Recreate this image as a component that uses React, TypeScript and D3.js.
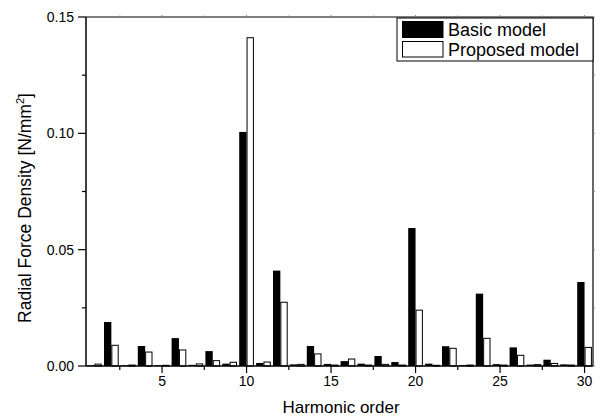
import React from "react";
import * as d3 from "d3";

const harmonics = d3.range(1, 31);
const basicModel = [0.0003, 0.0189, 0.0003, 0.0086, 0.0003, 0.012, 0.0005, 0.0064, 0.001, 0.1006, 0.0013, 0.041, 0.0007, 0.0086, 0.0009, 0.0021, 0.001, 0.0043, 0.0017, 0.0593, 0.001, 0.0085, 0.0004, 0.0311, 0.0008, 0.008, 0.0006, 0.0027, 0.0007, 0.0361];
const proposedModel = [0.0008, 0.0089, 0.0004, 0.006, 0.0003, 0.0069, 0.0009, 0.0023, 0.0016, 0.1411, 0.0017, 0.0274, 0.0007, 0.0052, 0.0004, 0.003, 0.0004, 0.0007, 0.0004, 0.024, 0.0003, 0.0076, 0.0004, 0.0119, 0.0004, 0.0046, 0.0006, 0.0011, 0.0004, 0.008];
const xMajorTicks = [5, 10, 15, 20, 25, 30];
const xMinorTicks = [2.5, 7.5, 12.5, 17.5, 22.5, 27.5];
const yMajorTicks = [0, 0.05, 0.1, 0.15];
const yMinorTicks = [0.025, 0.075, 0.125];
const legendLabels = ["Basic model", "Proposed model"];

const W = 602, H = 417;
const L = 86, R = 593, T = 17, B = 366;
const FONT = "'Liberation Sans', Arial, sans-serif";

export default function App() {
  const x = d3.scaleLinear().domain([0.5, 30.5]).range([L, R]);
  const y = d3.scaleLinear().domain([0, 0.15]).range([B, T]);
  const bw = (x(1) - x(0)) * 0.435;

  return (
    <>
      <style>{`body{margin:0}`}</style>
      <svg width={W} height={H} style={{ display: "block", background: "#fff" }}>
        {/* bars */}
        {harmonics.map((h, i) => (
          <g key={h}>
            <rect x={x(h) - bw} y={y(basicModel[i])} width={bw} height={B - y(basicModel[i])} fill="#000" />
            <rect x={x(h) + 0.5} y={y(proposedModel[i])} width={bw - 1} height={B - y(proposedModel[i])} fill="#fff" stroke="#000" strokeWidth={1} />
          </g>
        ))}
        {/* frame */}
        <line x1={L} x2={R} y1={T} y2={T} stroke="#000" strokeWidth={1.2} />
        <line x1={L} x2={R} y1={B} y2={B} stroke="#000" strokeWidth={1.5} />
        <line x1={L} x2={L} y1={T} y2={B} stroke="#000" strokeWidth={1.5} />
        <line x1={R} x2={R} y1={T} y2={B} stroke="#000" strokeWidth={1.2} />
        {/* x ticks */}
        {xMajorTicks.map((t) => (
          <g key={"xM" + t}>
            <line x1={x(t)} x2={x(t)} y1={B} y2={B + 7} stroke="#000" strokeWidth={1.2} />
            <line x1={x(t)} x2={x(t)} y1={T} y2={T - 2} stroke="#888" strokeWidth={1} />
            <text x={x(t)} y={B + 20} textAnchor="middle" fontFamily={FONT} fontSize={14}>{t}</text>
          </g>
        ))}
        {xMinorTicks.map((t) => (
          <g key={"xm" + t}>
            <line x1={x(t)} x2={x(t)} y1={B} y2={B + 4} stroke="#000" strokeWidth={1.2} />
            <line x1={x(t)} x2={x(t)} y1={T} y2={T - 1.5} stroke="#888" strokeWidth={1} />
          </g>
        ))}
        {/* y ticks */}
        {yMajorTicks.map((t) => (
          <g key={"yM" + t}>
            <line x1={L - 8} x2={L} y1={y(t)} y2={y(t)} stroke="#000" strokeWidth={1.2} />
            <line x1={R} x2={R + 2} y1={y(t)} y2={y(t)} stroke="#888" strokeWidth={1} />
            <text x={L - 12} y={y(t) + 5} textAnchor="end" fontFamily={FONT} fontSize={14}>{d3.format(".2f")(t)}</text>
          </g>
        ))}
        {yMinorTicks.map((t) => (
          <g key={"ym" + t}>
            <line x1={L - 4} x2={L} y1={y(t)} y2={y(t)} stroke="#000" strokeWidth={1.2} />
            <line x1={R} x2={R + 2} y1={y(t)} y2={y(t)} stroke="#888" strokeWidth={1} />
          </g>
        ))}
        {/* axis titles */}
        <text x={341} y={413} textAnchor="middle" fontFamily={FONT} fontSize={17}>Harmonic order</text>
        <text transform={`translate(31,208) rotate(-90)`} textAnchor="middle" fontFamily={FONT} fontSize={17.5}>
          Radial Force Density [N/mm<tspan dy={-7} fontSize={11}>2</tspan><tspan dy={7}>]</tspan>
        </text>
        {/* legend */}
        <rect x={397} y={18} width={R - 397} height={43} fill="#fff" stroke="#000" strokeWidth={1} />
        <rect x={402.5} y={21.5} width={40.5} height={16} fill="#000" stroke="#000" />
        <rect x={402.5} y={41.5} width={40.5} height={15.5} fill="#fff" stroke="#000" />
        <text x={448} y={36} fontFamily={FONT} fontSize={18}>{legendLabels[0]}</text>
        <text x={448} y={56} fontFamily={FONT} fontSize={18}>{legendLabels[1]}</text>
      </svg>
    </>
  );
}
